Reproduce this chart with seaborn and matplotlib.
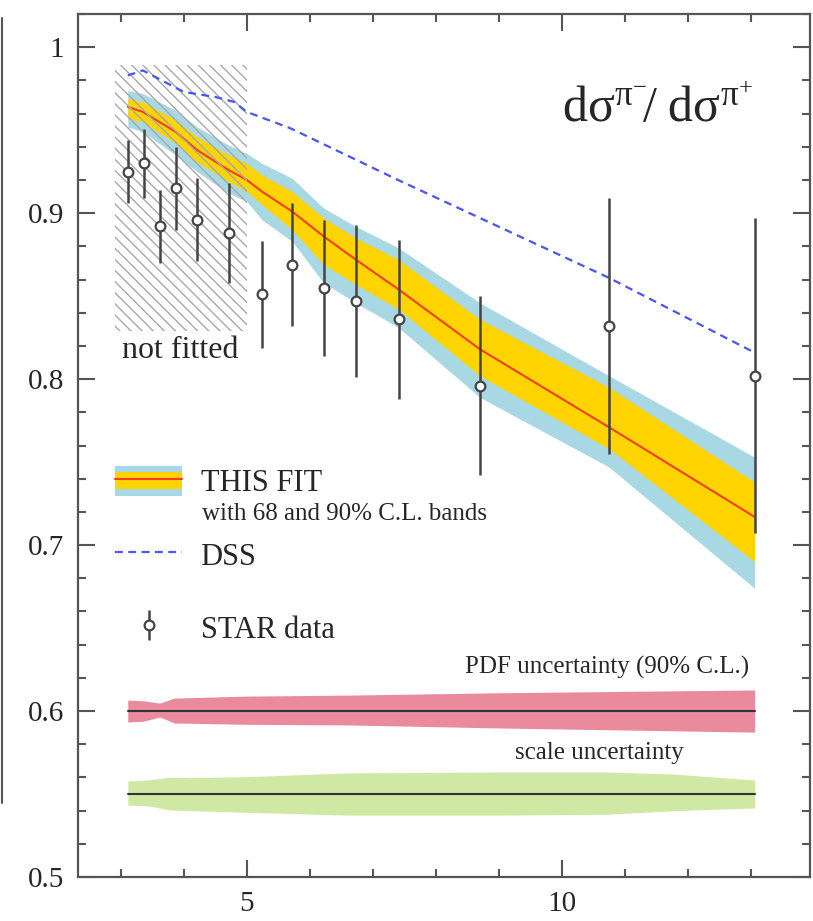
import numpy as np
import pandas as pd
import seaborn as sns
import matplotlib.pyplot as plt
from matplotlib.patches import Patch, Rectangle
from matplotlib.lines import Line2D
from matplotlib.legend_handler import HandlerPatch, HandlerTuple
from matplotlib.ticker import MultipleLocator

### DATA
# STAR pi-/pi+ ratio points
star_pt = [3.11, 3.37, 3.62, 3.87, 4.21, 4.71, 5.24, 5.72, 6.22, 6.73, 7.41, 8.70, 10.75, 13.06]
star_ratio = [0.925, 0.930, 0.892, 0.915, 0.896, 0.888, 0.851, 0.869, 0.855, 0.847, 0.836, 0.796, 0.832, 0.802]
star_err = [0.019, 0.021, 0.022, 0.025, 0.025, 0.030, 0.032, 0.037, 0.041, 0.046, 0.048, 0.054, 0.077, 0.095]

# this fit: central value and 68 / 90% C.L. bands
fit_pt = [3.11, 3.35, 3.87, 4.21, 4.71, 5.0, 5.24, 5.72, 6.22, 6.73, 7.41, 8.70, 10.75, 13.06]
fit_mid = [0.964, 0.961, 0.949, 0.938, 0.926, 0.920, 0.913, 0.901, 0.886, 0.872, 0.854, 0.818, 0.771, 0.717]
fit68_hi = [0.969, 0.967, 0.956, 0.946, 0.935, 0.930, 0.923, 0.913, 0.897, 0.885, 0.872, 0.836, 0.795, 0.738]
fit68_lo = [0.957, 0.955, 0.942, 0.931, 0.919, 0.913, 0.905, 0.890, 0.869, 0.857, 0.842, 0.802, 0.758, 0.690]
fit90_hi = [0.974, 0.972, 0.962, 0.952, 0.941, 0.936, 0.930, 0.921, 0.903, 0.892, 0.879, 0.846, 0.802, 0.753]
fit90_lo = [0.952, 0.949, 0.935, 0.925, 0.912, 0.907, 0.896, 0.883, 0.858, 0.846, 0.831, 0.789, 0.747, 0.674]

# DSS curve
dss_pt = [3.11, 3.35, 4.0, 4.5, 4.8, 5.0, 5.7, 7.4, 10.75, 13.06]
dss_ratio = [0.983, 0.986, 0.973, 0.970, 0.967, 0.961, 0.951, 0.920, 0.861, 0.816]

# PDF uncertainty band around 0.6
pdf_pt = [3.11, 3.35, 3.62, 3.85, 5.0, 6.63, 9.0, 13.06]
pdf_center = 0.6
pdf_hi = [0.6066, 0.6062, 0.6048, 0.6078, 0.6090, 0.6096, 0.6110, 0.6127]
pdf_lo = [0.5934, 0.5938, 0.5964, 0.5928, 0.5920, 0.5916, 0.5898, 0.5873]

# scale uncertainty band around 0.55
scale_pt = [3.11, 3.45, 3.78, 4.1, 5.0, 6.6, 9.0, 10.7, 11.8, 13.06]
scale_center = 0.55
scale_hi = [0.5578, 0.5585, 0.5602, 0.5598, 0.5605, 0.5627, 0.5633, 0.5633, 0.5620, 0.5584]
scale_lo = [0.5434, 0.5428, 0.5404, 0.5400, 0.5390, 0.5373, 0.5373, 0.5378, 0.5400, 0.5416]

# region not used in the fit
notfit_x = (2.90, 5.0)
notfit_y = (0.829, 0.989)

xticks = [5, 10]
xtick_labels = ['5', '10']
yticks = [0.5, 0.6, 0.7, 0.8, 0.9, 1.0]
ytick_labels = ['0.5', '0.6', '0.7', '0.8', '0.9', '1']

### STYLE
sns.set_theme(style='ticks')
plt.rcParams['font.family'] = ['Liberation Serif', 'DejaVu Serif']
plt.rcParams['mathtext.fontset'] = 'custom'
plt.rcParams['mathtext.rm'] = 'Liberation Serif'
plt.rcParams['mathtext.it'] = 'Liberation Serif:italic'
plt.rcParams['hatch.linewidth'] = 1.0

c_blue = '#a9d8e5'
c_yellow = '#ffd400'
c_red = '#f2401e'
c_dss = '#4a55f2'
c_pdf = '#e98a9d'
c_scale = '#cfe8a3'
c_dark = '#444444'

### FIGURE
fig = plt.figure(figsize=(8.13, 9.21), dpi=100)
ax = fig.add_axes([78 / 813, 1 - 877 / 921, 732 / 813, 863 / 921])

fit_df = pd.DataFrame({'pt': fit_pt, 'mid': fit_mid})
dss_df = pd.DataFrame({'pt': dss_pt, 'ratio': dss_ratio})

# fit bands
ax.fill_between(fit_pt, fit90_lo, fit90_hi, color=c_blue, lw=0, zorder=1)
ax.fill_between(fit_pt, fit68_lo, fit68_hi, color=c_yellow, lw=0, zorder=2)
sns.lineplot(data=fit_df, x='pt', y='mid', color=c_red, lw=1.5, ax=ax, zorder=3)

# uncertainty bands
ax.fill_between(pdf_pt, pdf_lo, pdf_hi, color=c_pdf, lw=0, zorder=1)
ax.plot([pdf_pt[0], pdf_pt[-1]], [pdf_center, pdf_center], color='#333333', lw=1.5, zorder=2)
ax.fill_between(scale_pt, scale_lo, scale_hi, color=c_scale, lw=0, zorder=1)
ax.plot([scale_pt[0], scale_pt[-1]], [scale_center, scale_center], color='#333333', lw=1.5, zorder=2)

# hatched "not fitted" region
ax.add_patch(Rectangle((notfit_x[0], notfit_y[0]), notfit_x[1] - notfit_x[0], notfit_y[1] - notfit_y[0],
                       facecolor='none', edgecolor='#a8a8a8', lw=0, hatch='\\\\\\', zorder=4))
ax.text(np.mean(notfit_x), 0.8175, 'not fitted', fontsize=23, ha='center', va='center')

# DSS
sns.lineplot(data=dss_df, x='pt', y='ratio', color=c_dss, lw=1.6, ax=ax, zorder=5, dashes=False)
ax.lines[-1].set_dashes((3.5, 2.5))

# STAR data
star = ax.errorbar(star_pt, star_ratio, yerr=star_err, fmt='o', color=c_dark, ecolor=c_dark,
                   elinewidth=1.8, mfc='white', mec=c_dark, mew=1.6, ms=7, zorder=6)

# axes
ax.set_xlim(2.32, 13.94)
ax.set_ylim(0.5, 1.02)
ax.set_xticks(xticks)
ax.set_xticklabels(xtick_labels)
ax.set_yticks(yticks)
ax.set_yticklabels(ytick_labels)
ax.xaxis.set_minor_locator(MultipleLocator(1))
ax.yaxis.set_minor_locator(MultipleLocator(0.02))
ax.set_xlabel('')
ax.set_ylabel('')
ax.tick_params(which='both', direction='in', top=True, right=True, color='#555555', width=1.5,
               labelsize=21, pad=10)
ax.tick_params(axis='x', pad=10)
ax.tick_params(which='major', length=12)
ax.tick_params(which='minor', length=6)
for s in ax.spines.values():
    s.set_color('#555555')
    s.set_linewidth(1.6)

# title
ax.text(13.03, 0.955, r'$\mathrm{d\sigma^{\pi^{-}}\!/\ d\sigma^{\pi^{+}}}$', fontsize=36,
        ha='right', va='baseline')

# legend
blue_patch = Patch(facecolor=c_blue, edgecolor='none')
yellow_patch = Patch(facecolor=c_yellow, edgecolor='none')
red_line = Line2D([], [], color=c_red, lw=1.5)
dss_line = Line2D([], [], color=c_dss, lw=1.6, dashes=(3.5, 2.5))


def narrow_patch(legend, orig_handle, xdescent, ydescent, width, height, fontsize):
    return Rectangle((-xdescent, -ydescent + 0.22 * height), width, 0.56 * height)


leg = ax.legend([(blue_patch, yellow_patch, red_line), dss_line, star],
                ['THIS FIT', 'DSS', 'STAR data'],
                handler_map={tuple: HandlerTuple(ndivide=1, pad=0),
                             yellow_patch: HandlerPatch(patch_func=narrow_patch)},
                loc='upper left', bbox_to_anchor=(0.0505, 0.4765), frameon=False,
                fontsize=22, handlelength=2.2, handleheight=1.15, handletextpad=0.6,
                labelspacing=1.335, borderpad=0, borderaxespad=0, numpoints=1)

ax.text(4.29, 0.719, 'with 68 and 90% C.L. bands', fontsize=18, ha='left', va='center')
ax.text(12.98, 0.626, 'PDF uncertainty (90% C.L.)', fontsize=18, ha='right', va='center')
ax.text(10.6, 0.575, 'scale uncertainty', fontsize=18, ha='center', va='center')

# edge of neighbouring panel
fig.add_artist(Line2D([0.003, 0.003], [1 - 18 / 921, 1 - 803 / 921], transform=fig.transFigure,
                      color='#555555', lw=1.5))

plt.savefig('out.png', dpi=100)
plt.close()
